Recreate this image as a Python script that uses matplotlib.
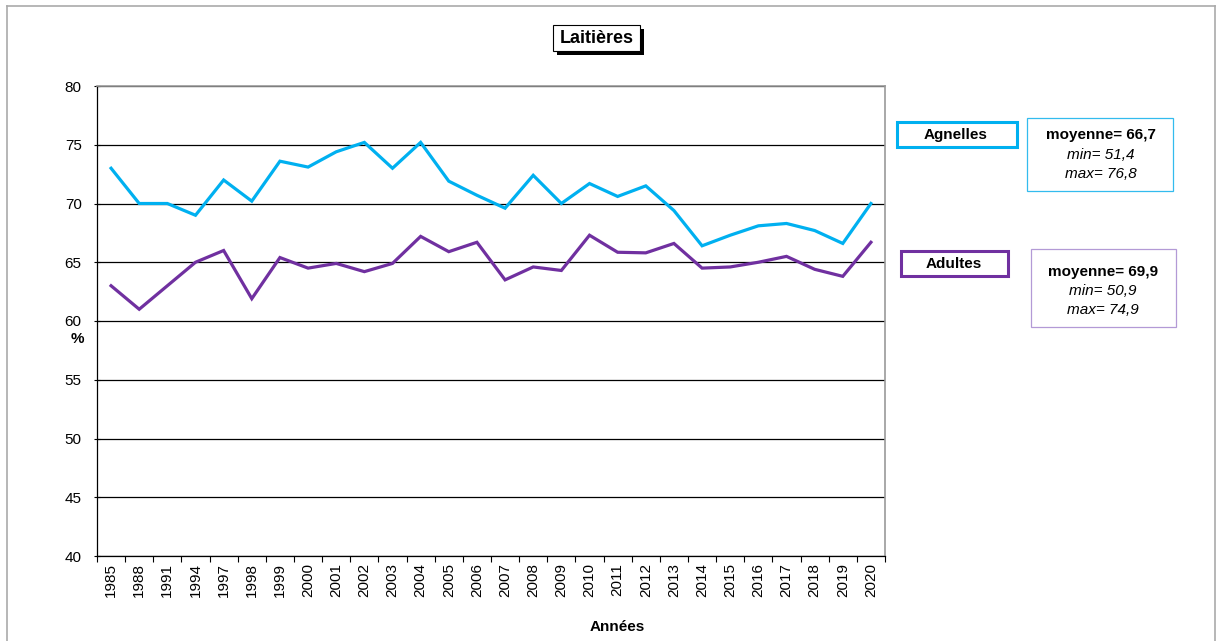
import matplotlib
matplotlib.use("Agg")
import matplotlib.pyplot as plt
from matplotlib.patches import Rectangle
from matplotlib.lines import Line2D
import numpy as np

plt.rcParams['font.family'] = ['Liberation Sans', 'DejaVu Sans']

years = ['1985', '1988', '1991', '1994', '1997', '1998', '1999', '2000', '2001', '2002',
         '2003', '2004', '2005', '2006', '2007', '2008', '2009', '2010', '2011', '2012',
         '2013', '2014', '2015', '2016', '2017', '2018', '2019', '2020']
agnelles = [73.0, 70.0, 70.0, 69.0, 72.0, 70.2, 73.6, 73.1, 74.4, 75.2,
            73.0, 75.2, 71.9, 70.7, 69.6, 72.4, 70.0, 71.7, 70.6, 71.5,
            69.4, 66.4, 67.3, 68.1, 68.3, 67.7, 66.6, 70.0]
adultes = [63.0, 61.0, 63.0, 65.0, 66.0, 61.9, 65.4, 64.5, 64.9, 64.2,
           64.9, 67.2, 65.9, 66.7, 63.5, 64.6, 64.3, 67.3, 65.85, 65.8,
           66.6, 64.5, 64.6, 65.0, 65.5, 64.4, 63.8, 66.7]
stats_agn = ['moyenne= 66,7', 'min= 51,4', 'max= 76,8']
stats_adu = ['moyenne= 69,9', 'min= 50,9', 'max= 74,9']

cyan = '#00B0F0'
purple = '#7030A0'

W, H = 1221, 641
fig = plt.figure(figsize=(W / 100, H / 100), dpi=100)

def fx(px):
    return px / W

def fy(py):
    return 1 - py / H

ax = fig.add_axes([fx(97), fy(556), fx(885) - fx(97), fy(86) - fy(556)])
x = np.arange(len(years))
ax.plot(x, agnelles, color=cyan, lw=2.3, solid_joinstyle='miter')
ax.plot(x, adultes, color=purple, lw=2.3, solid_joinstyle='miter')

ax.set_xlim(-0.5, len(years) - 0.5)
ax.set_ylim(40, 80)
ax.set_yticks(np.arange(40, 81, 5))
ax.yaxis.grid(True, color='black', lw=0.9)
ax.set_axisbelow(True)
ax.set_xticks(x)
ax.set_xticklabels(years, rotation=90, fontsize=11)
ax.tick_params(axis='x', length=0, pad=5)
ax.set_xticks(np.arange(-0.5, len(years), 1), minor=True)
ax.tick_params(axis='x', which='minor', length=4, direction='out', width=0.8)
ax.tick_params(axis='y', labelsize=11, length=4, direction='inout', width=0.8, pad=9)
for s in ['top', 'right']:
    ax.spines[s].set_color('#999999')
    ax.spines[s].set_linewidth(1.2)
for s in ['left', 'bottom']:
    ax.spines[s].set_linewidth(0.9)

fig.text(fx(77), fy(339), '%', ha='center', va='center', fontsize=11, fontweight='bold')
fig.text(fx(617), fy(627), 'Années', ha='center', va='center', fontsize=11, fontweight='bold')

# outer frame
for xs, ys in [([7, 7], [641, 6]), ([7, 1215], [6, 6]), ([1215, 1215], [6, 641])]:
    fig.add_artist(Line2D([fx(v) for v in xs], [fy(v) for v in ys], color='#aaaaaa', lw=1.2))

def box(x0, y0, x1, y1, ec, lw, zorder=3, fc='white'):
    r = Rectangle((fx(x0), fy(y1)), fx(x1) - fx(x0), fy(y0) - fy(y1),
                  transform=fig.transFigure, fc=fc, ec=ec, lw=lw, zorder=zorder)
    fig.add_artist(r)

# title with shadow
box(557, 29, 644, 55, 'black', 0, fc='black')
box(553, 25, 640, 51, 'black', 0.8)
fig.text(fx(596.5), fy(38.5), 'Laitières', ha='center', va='center', fontsize=13,
         fontweight='bold', zorder=5)

# legend boxes
box(896.5, 122.5, 1016.5, 146.5, cyan, 2.2)
fig.text(fx(956), fy(134.5), 'Agnelles', ha='center', va='center', fontsize=11,
         fontweight='bold', zorder=5)
box(900.5, 251.5, 1007.5, 275.5, purple, 2.2)
fig.text(fx(954), fy(264), 'Adultes', ha='center', va='center', fontsize=11,
         fontweight='bold', zorder=5)

# stats boxes
box(1027, 118, 1173, 191, '#33BBEE', 0.9)
box(1031, 249, 1176, 327, '#B39AD6', 0.9)
for lines, cx, ys in [(stats_agn, 1101, [135, 155, 174]), (stats_adu, 1103, [272, 291, 310])]:
    for i, (t, yy) in enumerate(zip(lines, ys)):
        fig.text(fx(cx), fy(yy), t, ha='center', va='center', fontsize=11, zorder=5,
                 fontweight='bold' if i == 0 else 'normal',
                 fontstyle='normal' if i == 0 else 'italic')

fig.savefig('out.png', dpi=100)
